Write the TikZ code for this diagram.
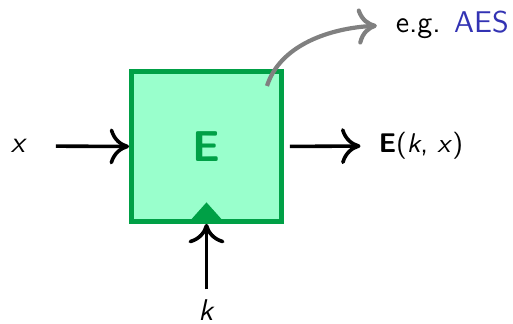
\documentclass[tikz,border=0pt]{standalone}
\usepackage{fontspec}
\usetikzlibrary{arrows.meta}
\definecolor{boxfill}{RGB}{153,255,204}
\definecolor{boxedge}{RGB}{0,160,70}
\definecolor{aesblue}{RGB}{51,51,179}
\begin{document}
\begin{tikzpicture}[x=1pt/3,y=-1pt/3,line width=1.2pt,
  every node/.style={font=\sffamily,inner sep=3pt},
  arr/.style={-{To[length=6.5pt,width=12pt]}},
  cipher/.style={draw=boxedge,fill=boxfill,line width=1.6pt,minimum size=50pt,text=boxedge,font=\sffamily\bfseries\Large}]
  \path[use as bounding box] (0,0) rectangle (513,324);
  \node[cipher] (enc) at (206.5,146.5) {E};
  \node (x) at (19,146) {\textit{x}};
  \node[anchor=west,font=\sffamily\small] (out) at (368,146) {\textbf{E}(\textit{k}, \textit{x})};
  \node[anchor=base] (k) at (206.5,321) {\textit{k}};
  \node[anchor=base west] (eg) at (385,33) {e.g. \textcolor{aesblue}{AES}};
  \coordinate (hint) at (267,86);
  \fill[boxedge] (enc.south) ++(-17,-2.5) -- ++(34,0) -- ++(-17,-19) -- cycle;
  \draw[arr,shorten <=6pt] (x) -- (enc.west);
  \draw[arr,shorten <=2pt,shorten >=2.5pt] (enc.east) -- (out.west);
  \draw[arr,shorten <=0pt] (k) -- (enc.south);
  \draw[arr,gray,line width=1.4pt,shorten >=2.7pt] (hint) .. controls (280,45) and (330,28) .. (eg.west);
\end{tikzpicture}
\end{document}
